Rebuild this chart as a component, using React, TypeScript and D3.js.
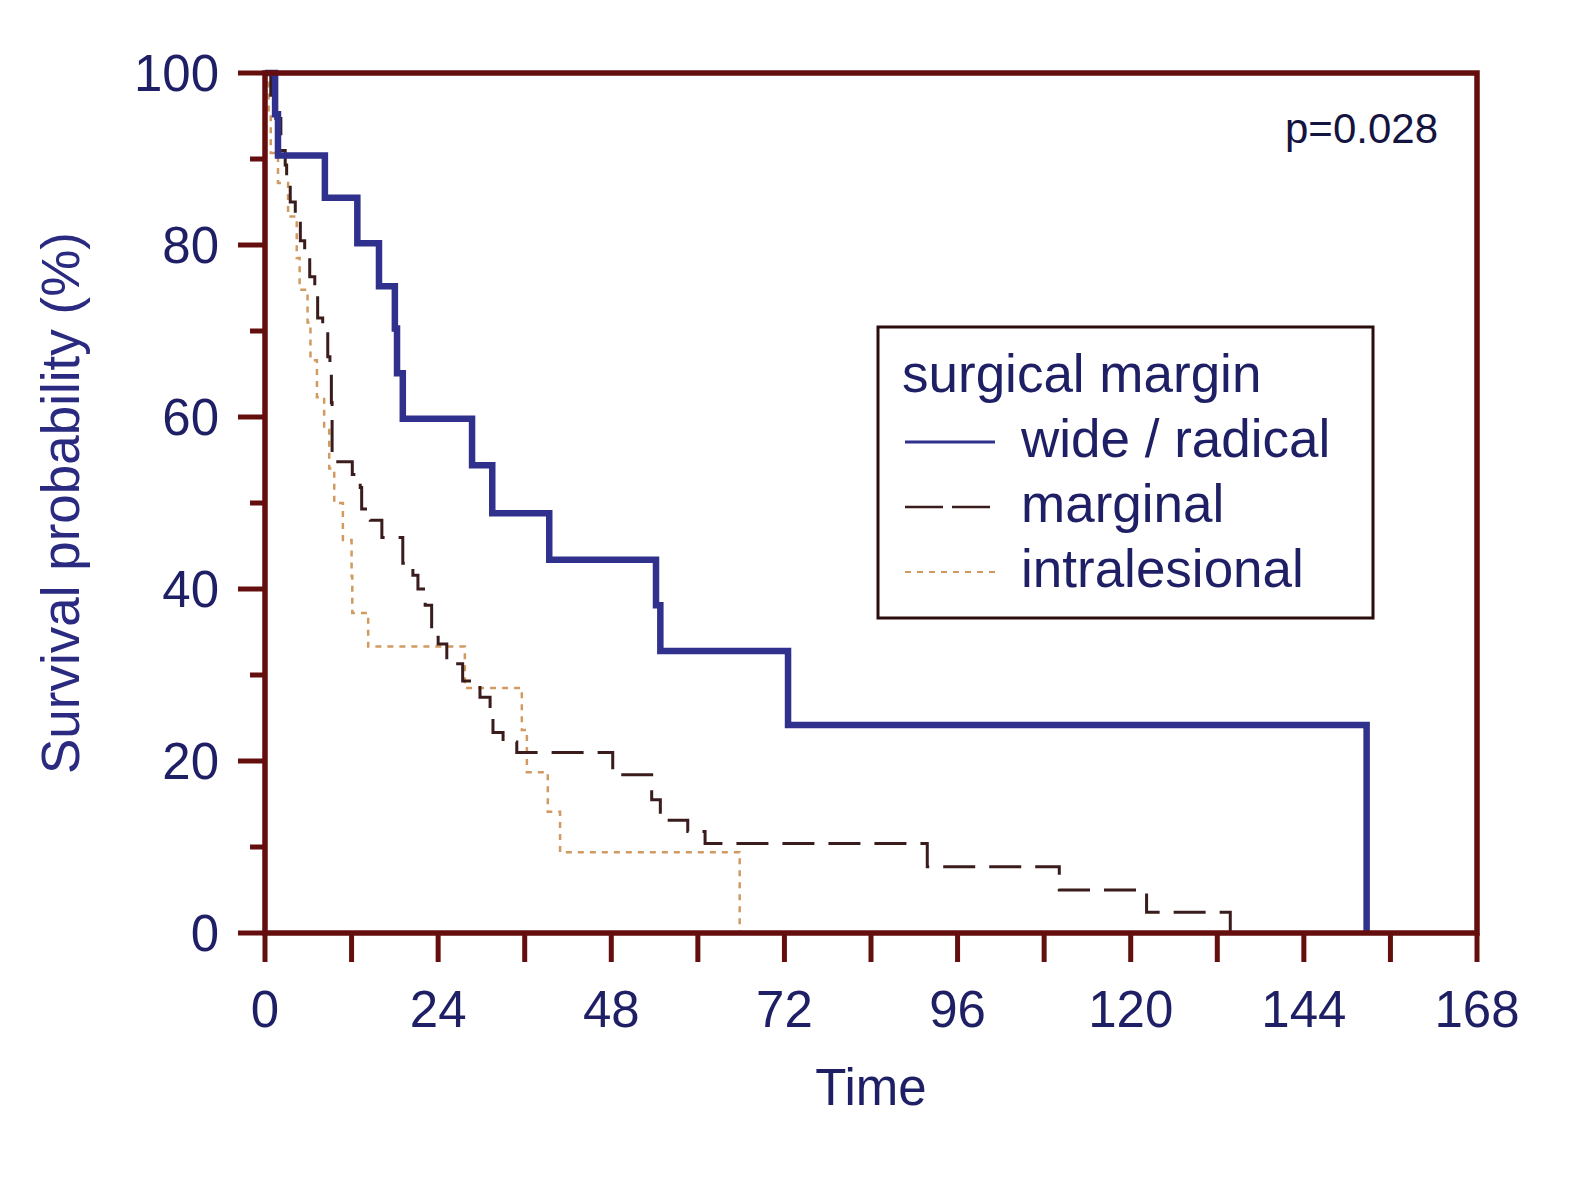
import * as d3 from "d3"
import { useLayoutEffect, useRef } from "react"

// survival curves: time of each step (months) and survival (%) after it
const wideTimes = [0, 1.4, 1.8, 8.3, 12.8, 15.8, 18.0, 18.3, 19.1, 28.7, 31.5, 39.4, 54.2, 54.8, 72.5, 152.7]
const wideSurv = [100, 95.2, 90.4, 85.5, 80.2, 75.2, 70.3, 65.1, 59.8, 54.4, 48.8, 43.4, 38.1, 32.8, 24.2, 0]

const marginalTimes = [
  0, 0.8, 1.5, 2.2, 2.8, 3.0, 3.5, 4.2, 4.9, 5.5, 6.2, 6.9, 7.3, 8.0, 8.7, 9.0, 9.2, 9.3,
  12.1, 13.2, 13.4, 14.6, 16.2, 19.1, 20.5, 21.2, 22.2, 23.1, 24.0, 25.2, 27.4, 29.8,
  31.2, 31.6, 33.0, 34.9, 48.2, 53.6, 54.8, 58.6, 61.0, 91.8, 110.1, 122.2, 133.8,
]
const marginalSurv = [
  100, 97.4, 94.7, 91.0, 89.3, 87.6, 85.0, 83.3, 80.5, 78.8, 76.3, 74.8, 71.5, 70.1, 67.0, 65.1, 61.7, 54.8,
  53.3, 51.8, 49.3, 48.0, 46.0, 43.0, 41.6, 40.0, 38.1, 35.3, 33.6, 31.3, 29.3, 27.4,
  25.2, 23.3, 22.2, 21.0, 18.4, 15.5, 13.1, 11.8, 10.4, 7.7, 5.0, 2.4, 0,
]

const intraTimes = [
  0, 0.5, 0.8, 1.8, 3.2, 4.4, 4.8, 5.9, 6.3, 7.2, 8.2, 8.9, 9.6, 10.8, 12.0, 12.1, 14.3,
  27.7, 35.6, 36.3, 39.2, 40.9, 65.8,
]
const intraSurv = [
  100, 95.2, 90.7, 87.2, 83.3, 78.5, 74.8, 71.0, 66.6, 62.3, 58.5, 54.0, 50.0, 45.7, 41.5, 37.2, 33.3,
  28.5, 23.6, 18.7, 14.1, 9.4, 0,
]

const xTicks = [0, 12, 24, 36, 48, 60, 72, 84, 96, 108, 120, 132, 144, 156, 168]
const xLabels = [0, 24, 48, 72, 96, 120, 144, 168]
const yTicks = [0, 10, 20, 30, 40, 50, 60, 70, 80, 90, 100]
const yLabels = [0, 20, 40, 60, 80, 100]

const legendTitle = "surgical margin"
const groups = ["wide / radical", "marginal", "intralesional"]

const FRAME = "#640e0e"
const TEXT = "#1f1f66"
const FONT = "'Liberation Sans', Arial, sans-serif"

const STYLES = [
  { color: "#2f318c", width: 6.5, dash: null as string | null },
  { color: "#3a1c1c", width: 3, dash: "32,14" },
  { color: "#d09a60", width: 2.5, dash: "6,6" },
]

export default function App() {
  const ref = useRef<HTMLDivElement>(null)

  useLayoutEffect(() => {
    if (!ref.current) return
    const container = ref.current
    d3.select(container).selectAll("svg").remove()

    const W = 1576
    const H = 1181
    const svg = d3
      .select(container)
      .append("svg")
      .attr("width", W)
      .attr("height", H)
      .style("display", "block")
      .style("font-family", FONT)

    svg.append("rect").attr("width", W).attr("height", H).attr("fill", "#fff")

    const x = d3.scaleLinear().domain([0, 168]).range([265, 1477])
    const y = d3.scaleLinear().domain([0, 100]).range([933, 73])

    // curves
    const series = [
      { t: intraTimes, s: intraSurv, st: STYLES[2] },
      { t: marginalTimes, s: marginalSurv, st: STYLES[1] },
      { t: wideTimes, s: wideSurv, st: STYLES[0] },
    ]
    const line = d3
      .line<[number, number]>()
      .x((d) => x(d[0]))
      .y((d) => y(d[1]))
      .curve(d3.curveStepAfter)

    series.forEach((ser) => {
      const pts = ser.t.map((t, i) => [t, ser.s[i]] as [number, number])
      svg
        .append("path")
        .attr("d", line(pts))
        .attr("fill", "none")
        .attr("stroke", ser.st.color)
        .attr("stroke-width", ser.st.width)
        .attr("stroke-dasharray", ser.st.dash)
    })

    // frame
    svg
      .append("rect")
      .attr("x", x(0))
      .attr("y", y(100))
      .attr("width", x(168) - x(0))
      .attr("height", y(0) - y(100))
      .attr("fill", "none")
      .attr("stroke", FRAME)
      .attr("stroke-width", 5.5)

    // y ticks
    svg
      .append("g")
      .selectAll("line")
      .data(yTicks)
      .enter()
      .append("line")
      .attr("x1", (d) => x(0) - (d % 20 === 0 ? 27 : 15))
      .attr("x2", x(0))
      .attr("y1", (d) => y(d))
      .attr("y2", (d) => y(d))
      .attr("stroke", FRAME)
      .attr("stroke-width", 5)

    svg
      .append("g")
      .selectAll("text")
      .data(yLabels)
      .enter()
      .append("text")
      .attr("x", 219)
      .attr("y", (d) => y(d))
      .attr("dy", "0.36em")
      .attr("text-anchor", "end")
      .attr("font-size", 51)
      .attr("fill", TEXT)
      .text((d) => d)

    // x ticks
    svg
      .append("g")
      .selectAll("line")
      .data(xTicks)
      .enter()
      .append("line")
      .attr("x1", (d) => x(d))
      .attr("x2", (d) => x(d))
      .attr("y1", y(0))
      .attr("y2", y(0) + 29)
      .attr("stroke", FRAME)
      .attr("stroke-width", 5)

    svg
      .append("g")
      .selectAll("text")
      .data(xLabels)
      .enter()
      .append("text")
      .attr("x", (d) => x(d))
      .attr("y", 1027)
      .attr("text-anchor", "middle")
      .attr("font-size", 51)
      .attr("fill", TEXT)
      .text((d) => d)

    // axis titles
    svg
      .append("text")
      .attr("x", 871)
      .attr("y", 1105)
      .attr("text-anchor", "middle")
      .attr("font-size", 51)
      .attr("fill", TEXT)
      .text("Time")

    svg
      .append("text")
      .attr("transform", "translate(79,503) rotate(-90)")
      .attr("text-anchor", "middle")
      .attr("font-size", 53)
      .attr("fill", "#2a2a80")
      .text("Survival probability (%)")

    svg
      .append("text")
      .attr("x", 1285)
      .attr("y", 143)
      .attr("font-size", 42)
      .attr("fill", "#141440")
      .text("p=0.028")

    // legend
    const lg = svg.append("g")
    lg.append("rect")
      .attr("x", 878)
      .attr("y", 327)
      .attr("width", 495)
      .attr("height", 291)
      .attr("fill", "#fff")
      .attr("stroke", "#2a0c0c")
      .attr("stroke-width", 3)
    lg.append("text")
      .attr("x", 902)
      .attr("y", 392)
      .attr("font-size", 53)
      .attr("fill", TEXT)
      .text(legendTitle)

    groups.forEach((g, i) => {
      const st = STYLES[i]
      const yy = 457 + i * 65
      lg.append("line")
        .attr("x1", 905)
        .attr("x2", 995)
        .attr("y1", yy - 15)
        .attr("y2", yy - 15)
        .attr("stroke", st.color)
        .attr("stroke-width", i === 0 ? 3 : i === 1 ? 2.5 : 2)
        .attr("stroke-dasharray", i === 1 ? "38,9" : st.dash)
      lg.append("text")
        .attr("x", 1021)
        .attr("y", yy)
        .attr("font-size", 53)
        .attr("fill", TEXT)
        .text(g)
    })

    return () => {
      d3.select(container).selectAll("svg").remove()
    }
  }, [])

  return <div ref={ref} style={{ position: "absolute", left: 0, top: 0 }} />
}
